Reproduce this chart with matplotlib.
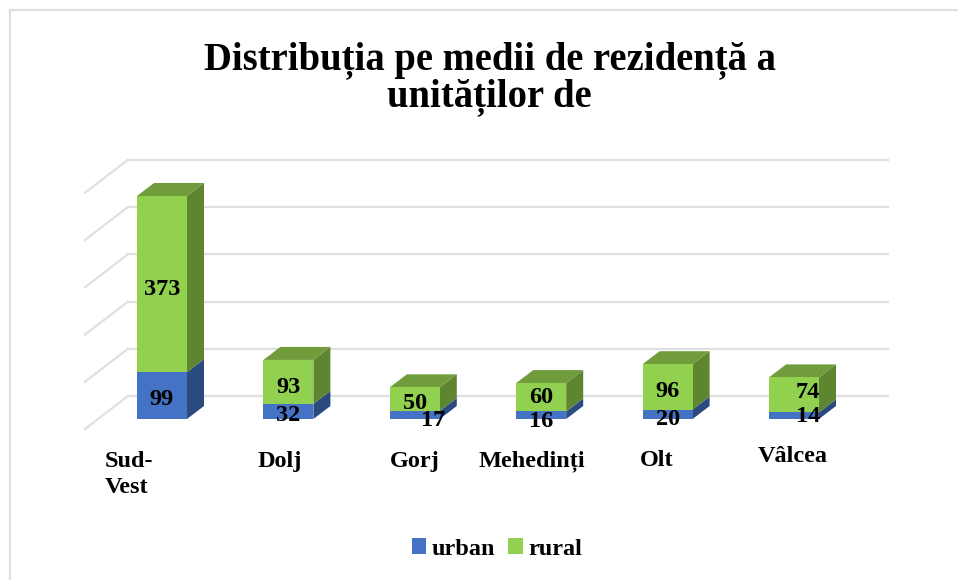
import matplotlib
matplotlib.use("Agg")
import matplotlib.pyplot as plt
from matplotlib.patches import Patch

categories = ["Sud-\nVest", "Dolj", "Gorj", "Mehedinți", "Olt", "Vâlcea"]
urban = [99, 32, 17, 16, 20, 14]
rural = [373, 93, 50, 60, 96, 74]
grid_values = [0, 100, 200, 300, 400, 500]
title = "Distribuția pe medii de rezidență a\nunităților de"

W, H = 958, 580
X0, XSTEP = 162.0, 126.4   # px of first category, px per category
Y0, YSCALE = 419.0, 0.4725  # px of value 0, px per unit
BAR_W = 50 / XSTEP
DX, DY = 17 / XSTEP, 13 / YSCALE  # bar depth
GRID_BACK = 23 / YSCALE  # back wall zero above bar base
WX0, WX1 = (128 - X0) / XSTEP, (888 - X0) / XSTEP
WDX, WDY = 43 / XSTEP, 33 / YSCALE

C_URB, C_URB_S = "#4472C4", "#2A4A80"
C_RUR, C_RUR_S, C_RUR_T = "#92D050", "#5E8530", "#709C3C"
GRID = "#E0E0E0"
FONT = "Liberation Serif"

fig = plt.figure(figsize=(W / 100, H / 100), dpi=100)
ax = fig.add_axes([0, 0, 1, 1])
ax.set_xlim(-X0 / XSTEP, (W - X0) / XSTEP)
ax.set_ylim(-(H - Y0) / YSCALE, Y0 / YSCALE)
ax.axis("off")

# chart frame (left and top edges visible)
fig.add_artist(plt.Line2D([9.5 / W, 9.5 / W], [0, 1 - 9.5 / H], color=GRID, lw=1.6))
fig.add_artist(plt.Line2D([9.5 / W, 1], [1 - 9.5 / H, 1 - 9.5 / H], color=GRID, lw=1.6))

# walls
for g in grid_values:
    yb = g + GRID_BACK
    ax.plot([WX0 - WDX, WX0], [yb - WDY, yb], color=GRID, lw=1.6, zorder=1)
    ax.plot([WX0, WX1], [yb, yb], color=GRID, lw=1.6, zorder=1)

xs = list(range(len(categories)))
for i, u, r in zip(xs, urban, rural):
    xl, xr = i - BAR_W / 2, i + BAR_W / 2
    ax.fill([xr, xr + DX, xr + DX, xr], [0, DY, u + DY, u], color=C_URB_S, lw=0, zorder=2)
    ax.fill([xr, xr + DX, xr + DX, xr], [u, u + DY, u + r + DY, u + r], color=C_RUR_S, lw=0, zorder=2)
    t = u + r
    ax.fill([xl, xr, xr + DX, xl + DX], [t, t, t + DY, t + DY], color=C_RUR_T, lw=0, zorder=2)

ax.bar(xs, urban, width=BAR_W, color=C_URB, zorder=3)
ax.bar(xs, rural, width=BAR_W, bottom=urban, color=C_RUR, zorder=3)

# value labels: pixel offsets from the segment centre
urb_off = [(0, -4), (0, -4), (18, -6), (0, -6), (0, -5), (14, -1)]
rur_off = [(0, -5), (0, -6), (0, -4), (0, 0), (0, -5), (14, 2)]
for i, u, r, ou, or_ in zip(xs, urban, rural, urb_off, rur_off):
    ax.annotate(str(u), (i, u / 2), xytext=(ou[0] * 0.72, ou[1] * 0.72), textcoords="offset points",
                ha="center", va="center", fontsize=17.5, fontweight="bold", family=FONT, color="black", zorder=5)
    ax.annotate(str(r), (i, u + r / 2), xytext=(or_[0] * 0.72, or_[1] * 0.72), textcoords="offset points",
                ha="center", va="center", fontsize=17.5, fontweight="bold", family=FONT, color="black", zorder=5)

# category labels
cat_off = [(-57, -55.5), (-31, -42), (-25, -42), (-63, -42), (-28, -42), (-36, -37)]
for i, c, o in zip(xs, categories, cat_off):
    ax.annotate(c, (i, 0), xytext=(o[0] * 0.72, o[1] * 0.72), textcoords="offset points",
                ha="left", va="center", fontsize=17.5, fontweight="bold", family=FONT,
                color="black", linespacing=1.3)

fig.text(489.5 / W, 1 - 78.5 / H, title, ha="center", va="center", fontsize=27.8, fontweight="bold",
         family=FONT, color="black", linespacing=0.97)

ax.legend(handles=[Patch(facecolor=C_URB, lw=0, label="urban"), Patch(facecolor=C_RUR, lw=0, label="rural")],
          loc="center", bbox_to_anchor=(497 / W, 1 - 549 / H), bbox_transform=fig.transFigure,
          ncol=2, frameon=False, prop={"family": FONT, "weight": "bold", "size": 17.5},
          handlelength=0.58, handleheight=0.58, handletextpad=0.22, columnspacing=0.55, borderpad=0)

fig.savefig("out.png", dpi=100)
